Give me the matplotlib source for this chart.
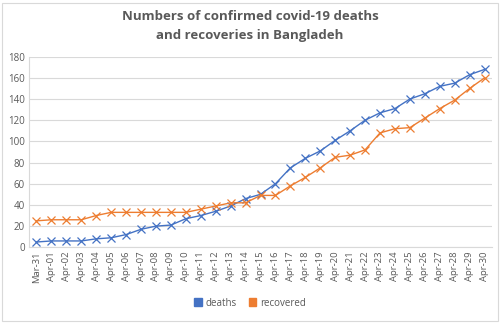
import matplotlib
matplotlib.use("Agg")
import matplotlib.pyplot as plt
from matplotlib.patches import Rectangle, Patch

dates = ["Mar-31"] + [f"Apr-{d:02d}" for d in range(1, 31)]
deaths = [5, 6, 6, 6, 8, 9, 12, 17, 20, 21, 27, 30, 34, 39, 46, 50, 60, 75, 84, 91,
          101, 110, 120, 127, 131, 140, 145, 152, 155, 163, 168]
recovered = [25, 26, 26, 26, 30, 33, 33, 33, 33, 33, 33, 36, 39, 42, 42, 49, 49, 58, 66, 75,
             85, 87, 92, 108, 112, 113, 122, 131, 139, 150, 160]
yticks = [0, 20, 40, 60, 80, 100, 120, 140, 160, 180]

blue = "#4472C4"
orange = "#ED7D31"
grid = "#D9D9D9"
txt = "#595959"

plt.rcParams['font.family'] = ['Open Sans', 'DejaVu Sans']

fig = plt.figure(figsize=(5, 3.26), dpi=100)
fig.patches.append(Rectangle((2/500, 1-321/326), 496/500, 318/326, transform=fig.transFigure,
                             fill=False, edgecolor=grid, linewidth=0.8))
ax = fig.add_axes([29/500, 1-247.3/326, (492-29)/500, (247.3-56.7)/326])

x = list(range(len(dates)))
ax.plot(x, deaths, color=blue, lw=1.0, marker='x', ms=5.5, mew=0.9, zorder=3)
ax.plot(x, recovered, color=orange, lw=1.0, marker='x', ms=5.5, mew=0.9, zorder=3)

ax.set_xlim(-0.5, len(dates) - 0.5)
ax.set_ylim(0, 180)
ax.set_yticks(yticks)
ax.set_yticklabels([str(v) for v in yticks], fontsize=7, color=txt)
ax.set_xticks(x)
ax.set_xticklabels(dates, rotation=90, fontsize=6.8, color=txt)
ax.tick_params(length=0, pad=3)
ax.grid(axis='y', color=grid, lw=0.8)
ax.set_axisbelow(True)
for s in ['top', 'right']:
    ax.spines[s].set_visible(False)
for s in ['left', 'bottom']:
    ax.spines[s].set_color(grid)
    ax.spines[s].set_linewidth(0.8)

fig.text(0.5, 1-17/326, "Numbers of confirmed covid-19 deaths", ha='center', va='center',
         fontsize=9.5, fontweight='bold', color=txt)
fig.text(0.5, 1-35/326, "and recoveries in Bangladeh", ha='center', va='center',
         fontsize=9.5, fontweight='bold', color=txt)

handles = [Patch(facecolor=blue, edgecolor=blue), Patch(facecolor=orange, edgecolor=orange)]
fig.legend(handles, ["deaths", "recovered"], loc='center', bbox_to_anchor=(0.5, 1-303/326),
           ncol=2, frameon=False, fontsize=7, handlelength=0.8, handleheight=0.8,
           handletextpad=0.4, columnspacing=1.2, labelcolor=txt)

fig.savefig("out.png", dpi=100)
